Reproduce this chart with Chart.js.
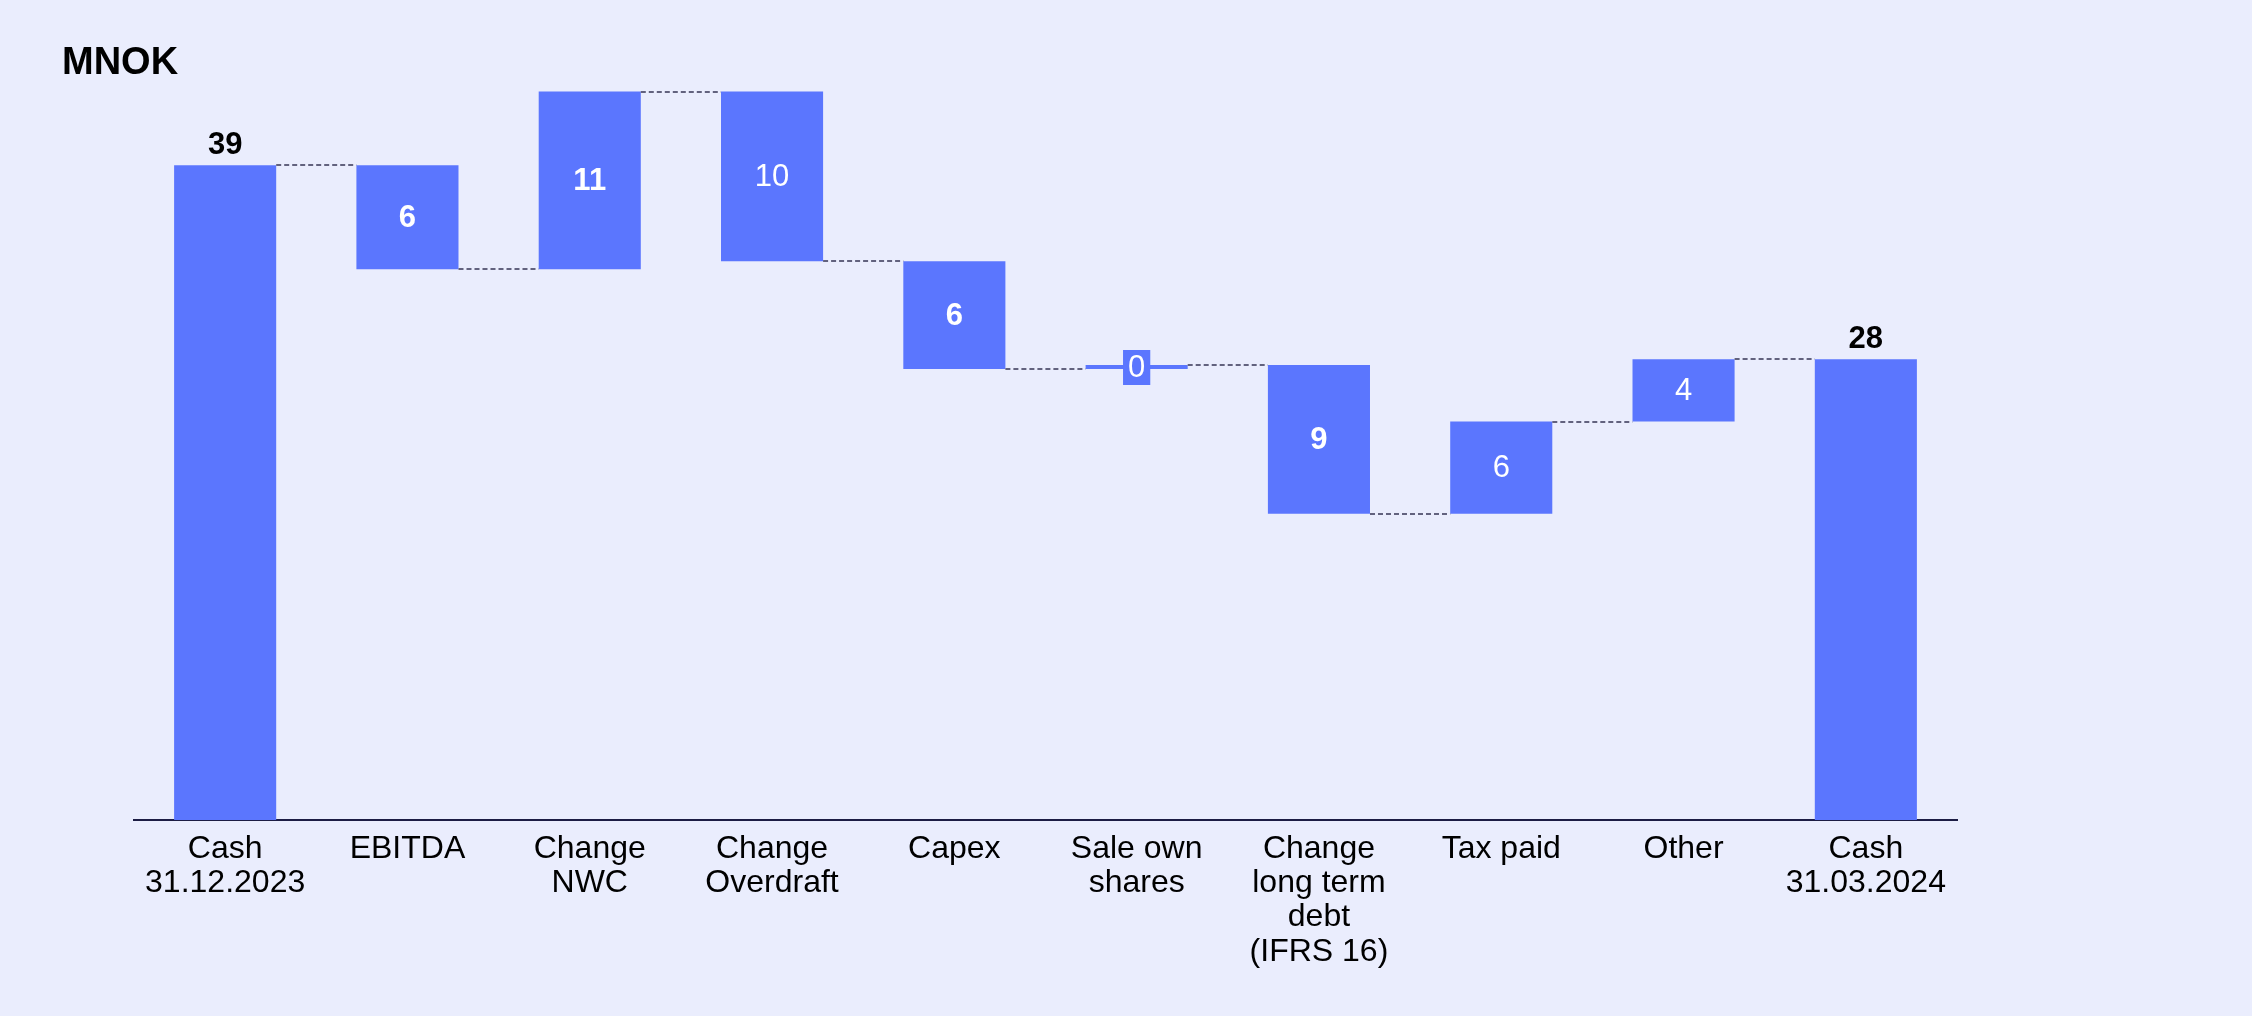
<!DOCTYPE html>
<html>
<head>
<meta charset="utf-8">
<script src="https://cdn.jsdelivr.net/npm/chart.js@4.4.1/dist/chart.umd.min.js"></script>
<style>
  html, body { margin: 0; padding: 0; background: #eaedfd; }
  #wrap { position: relative; width: 2252px; height: 1016px; }
  #unit { position: absolute; left: 62px; top: 40px; font: bold 38px "Liberation Sans", Arial, sans-serif; color: #000; }
</style>
</head>
<body>
<div id="wrap">
  <div id="unit">MNOK</div>
  <canvas id="waterfall"></canvas>
</div>
<script>
let categories = [
  ["Cash", "31.12.2023"],
  "EBITDA",
  ["Change", "NWC"],
  ["Change", "Overdraft"],
  "Capex",
  ["Sale own", "shares"],
  ["Change", "long term", "debt", "(IFRS 16)"],
  "Tax paid",
  "Other",
  ["Cash", "31.03.2024"]
];
let startCash = 39.28;
let changes = [-6.23, 10.66, -10.18, -6.47, 0.24, -8.92, 5.53, 3.73];
let boldLabel = [true, true, true, false, true, false, true, false, false, true];

let barColor = "#5b76fe";
let font = "\"Liberation Sans\", Arial, sans-serif";

// build floating bars from the running total
let ranges = [[0, startCash]];
let levels = [startCash];
let running = startCash;
for (let c of changes) {
  let next = running + c;
  ranges.push([Math.min(running, next), Math.max(running, next)]);
  running = next;
  levels.push(running);
}
let endCash = running;
ranges.push([0, endCash]);
levels.push(endCash);

let labelValues = [startCash].concat(changes).concat([endCash]).map(v => Math.round(Math.abs(v)));

// connectors and value labels
let waterfallPlugin = {
  id: "waterfallExtras",
  afterDatasetsDraw(chart) {
    let ctx = chart.ctx;
    let meta = chart.getDatasetMeta(0);
    let y = chart.scales.y;
    let n = meta.data.length;

    ctx.save();
    ctx.strokeStyle = "#62627e";
    ctx.lineWidth = 2;
    ctx.setLineDash([5, 3]);
    for (let i = 0; i < n - 1; i++) {
      let a = meta.data[i];
      let b = meta.data[i + 1];
      let py = Math.round(y.getPixelForValue(levels[i]));
      ctx.beginPath();
      ctx.moveTo(a.x + a.width / 2, py);
      ctx.lineTo(b.x - b.width / 2, py);
      ctx.stroke();
    }
    ctx.restore();

    ctx.save();
    ctx.textAlign = "center";
    for (let i = 0; i < n; i++) {
      let bar = meta.data[i];
      let text = String(labelValues[i]);
      ctx.font = (boldLabel[i] ? "bold " : "") + "31px " + font;
      if (i === 0 || i === n - 1) {
        ctx.fillStyle = "#000";
        ctx.textBaseline = "alphabetic";
        ctx.fillText(text, bar.x, bar.y - 11);
      } else {
        let mid = (bar.y + bar.base) / 2;
        if (Math.abs(bar.base - bar.y) < 30) {
          let w = ctx.measureText(text).width + 10;
          ctx.fillStyle = barColor;
          ctx.fillRect(bar.x - w / 2, mid - 17, w, 35);
        }
        ctx.fillStyle = "#fff";
        ctx.textBaseline = "middle";
        ctx.fillText(text, bar.x, mid + 1);
      }
    }
    ctx.restore();
  }
};

let chart = new Chart(document.getElementById("waterfall"), {
  type: "bar",
  data: {
    labels: categories,
    datasets: [{
      data: ranges,
      backgroundColor: barColor,
      borderSkipped: false,
      barPercentage: 1,
      categoryPercentage: 0.56
    }]
  },
  options: {
    responsive: true,
    maintainAspectRatio: false,
    animation: false,
    layout: { padding: { left: 134, right: 295, top: 20, bottom: 0 } },
    plugins: {
      legend: { display: false },
      tooltip: { enabled: false }
    },
    scales: {
      x: {
        grid: { display: false },
        border: { display: true, color: "#1c1c44", width: 2 },
        ticks: {
          color: "#000",
          padding: 4,
          maxRotation: 0,
          autoSkip: false,
          font: { family: font, size: 32, lineHeight: 1.07 }
        },
        afterFit: function (scale) { scale.height = 196; }
      },
      y: {
        display: false,
        min: 0,
        max: 48
      }
    }
  },
  plugins: [waterfallPlugin]
});
</script>
</body>
</html>
